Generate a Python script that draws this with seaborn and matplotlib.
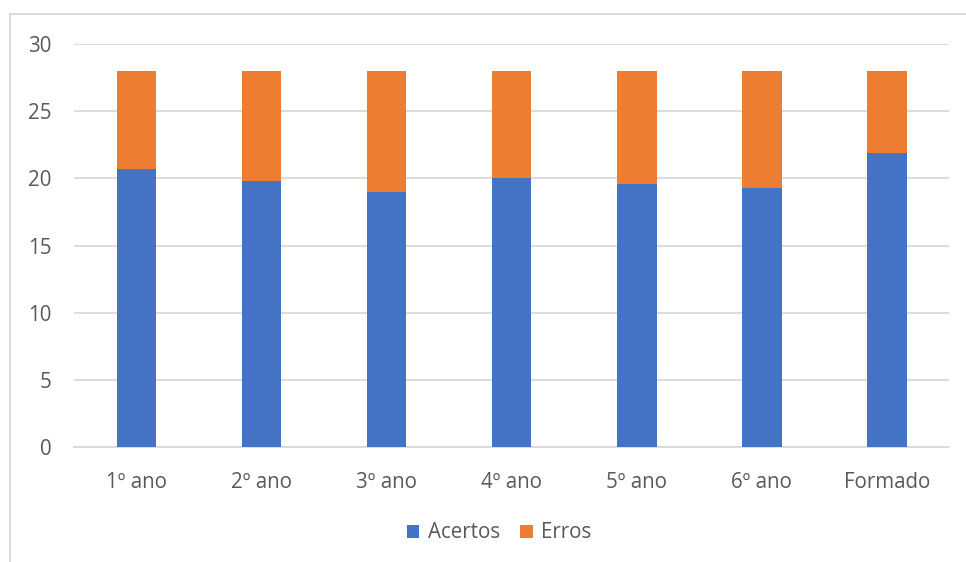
import matplotlib
matplotlib.use("Agg")
import matplotlib.pyplot as plt
from matplotlib.lines import Line2D
from matplotlib.patches import Patch
import pandas as pd
import seaborn as sns

# Data
categories = ["1º ano", "2º ano", "3º ano", "4º ano", "5º ano", "6º ano", "Formado"]
acertos = [20.7, 19.8, 19.0, 20.0, 19.6, 19.3, 21.9]
erros = [7.3, 8.2, 9.0, 8.0, 8.4, 8.7, 6.1]

BLUE = "#4472C4"
ORANGE = "#ED7D31"
GRID = "#D9D9D9"
TEXT = "#595959"

df = pd.DataFrame({"categoria": categories, "Acertos": acertos, "Erros": erros})
df["total"] = df["Acertos"] + df["Erros"]

sns.set_theme(style="white")
plt.rcParams["font.family"] = ["Open Sans", "DejaVu Sans"]

W, H = 966, 562
fig = plt.figure(figsize=(W / 100, H / 100), dpi=100)
ax = fig.add_axes([74 / W, 1 - 447.3 / H, (949.5 - 74) / W, (447.3 - 44) / H])

# Stacked bars: totals (orange) underneath, acertos (blue) on top
sns.barplot(data=df, x="categoria", y="total", color=ORANGE, width=0.315,
            saturation=1, linewidth=0, ax=ax, zorder=3)
sns.barplot(data=df, x="categoria", y="Acertos", color=BLUE, width=0.315,
            saturation=1, linewidth=0, ax=ax, zorder=4)

ax.set_ylim(0, 30)
ax.set_xlim(-0.5, len(categories) - 0.5)
ax.set_yticks(range(0, 31, 5))
ax.yaxis.grid(True, color=GRID, linewidth=1.3, zorder=0)
ax.set_axisbelow(True)
ax.set_xlabel("")
ax.set_ylabel("")
for s in ["top", "right", "left"]:
    ax.spines[s].set_visible(False)
ax.spines["bottom"].set_color(GRID)
ax.spines["bottom"].set_linewidth(1.3)
FS = 14.8
ax.tick_params(axis="both", length=0, labelcolor=TEXT, labelsize=FS)
ax.tick_params(axis="y", pad=16)
ax.tick_params(axis="x", pad=18)

handles = [Patch(facecolor=BLUE, edgecolor="none"), Patch(facecolor=ORANGE, edgecolor="none")]
leg = fig.legend(handles, ["Acertos", "Erros"], loc="center", bbox_to_anchor=(499 / W, 1 - 533 / H),
                 ncol=2, frameon=False, fontsize=FS, handlelength=0.6, handleheight=0.6,
                 handletextpad=0.4, columnspacing=1.0, labelcolor=TEXT)

# Chart-area border (top and left edges)
fig.add_artist(Line2D([10 / W, 1], [1 - 14 / H, 1 - 14 / H], transform=fig.transFigure,
                      color=GRID, linewidth=1.3))
fig.add_artist(Line2D([10 / W, 10 / W], [0, 1 - 14 / H], transform=fig.transFigure,
                      color=GRID, linewidth=1.3))

fig.savefig("out.png", dpi=100, facecolor="white")
